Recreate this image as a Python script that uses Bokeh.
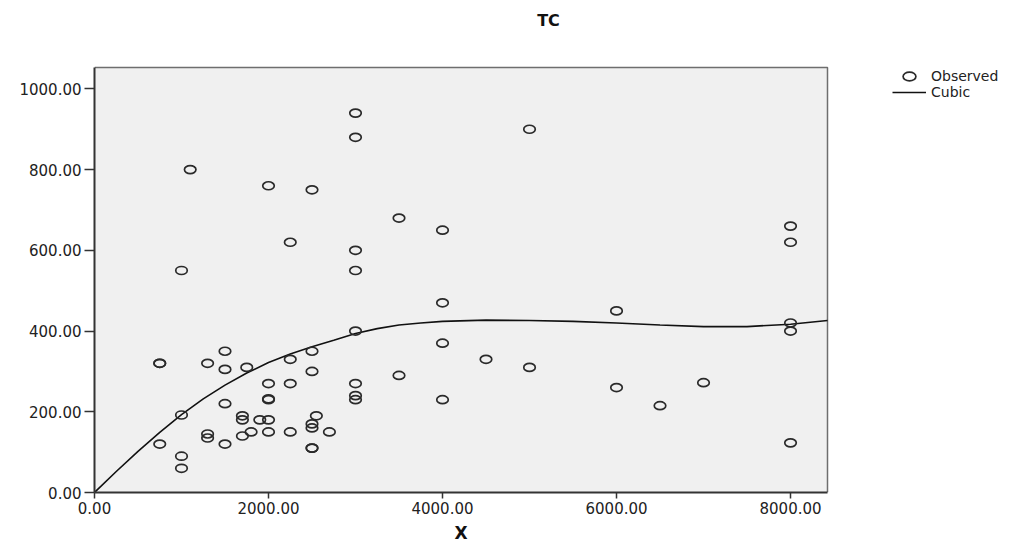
from bokeh.plotting import figure
from bokeh.models import Range1d, FixedTicker, PrintfTickFormatter, Legend, LegendItem, Label, Title
from bokeh.embed import file_html
from bokeh.resources import INLINE

# Observed data (X, TC)
obs_x = [1100, 2000, 2250, 1000,
         750, 750, 1300, 1500, 1500, 1750, 2250, 2000, 2250, 2000, 2000, 1500, 1000, 750, 1000, 1000,
         1300, 1300, 1500, 1700, 1800, 1700, 1700, 1900, 2000, 2000, 2250,
         3000, 3000, 2500, 3500, 4000, 5000, 3000, 3000, 4000,
         3000, 2500, 4000, 4500, 5000, 2500, 3000, 3500, 3000, 3000, 4000, 2550, 2500, 2500, 2700, 2500, 2500,
         8000, 8000, 6000, 8000, 8000, 6000, 6500, 7000, 8000]
obs_y = [800, 760, 620, 550,
         320, 320, 320, 350, 305, 310, 330, 270, 270, 230, 232, 220, 192, 120, 90, 60,
         145, 135, 120, 140, 150, 190, 180, 180, 180, 150, 150,
         940, 880, 750, 680, 650, 900, 600, 550, 470,
         400, 350, 370, 330, 310, 300, 270, 290, 240, 230, 230, 190, 170, 160, 150, 110, 110,
         660, 620, 450, 420, 400, 260, 215, 272, 123]

# Cubic fit curve
cubic_x = [0, 250, 500, 750, 1000, 1250, 1500, 1750, 2000, 2250, 2500, 2750, 3000, 3250, 3500,
           3750, 4000, 4500, 5000, 5500, 6000, 6500, 7000, 7500, 8000, 8425]
cubic_y = [0, 52, 102, 149, 193, 232, 266, 296, 322, 343, 361, 377, 394, 406, 415,
           420, 424, 427, 426, 424, 420, 415, 411, 411, 417, 426]

x_ticks = [0, 2000, 4000, 6000, 8000]
y_ticks = [0, 200, 400, 600, 800, 1000]

# Axis extents of the plot area
X_MAX, Y_MAX = 8425, 1053

FONT = "DejaVu Sans"

# The frame spans the whole canvas so that legend and title can sit beside the plot area
p = figure(width=1017, height=548, output_backend="svg", toolbar_location=None,
           x_range=Range1d(0, X_MAX * 923 / 733), y_range=Range1d(0, Y_MAX * 492 / 425),
           min_border_left=94, min_border_right=0, min_border_top=0, min_border_bottom=56)

p.background_fill_color = "white"
p.border_fill_color = "white"
p.outline_line_color = None
p.grid.visible = False

# plot area background and its top/right border
p.quad(left=[0], right=[X_MAX], bottom=[0], top=[Y_MAX], fill_color="#f0f0f0", line_color=None)
p.line([0, X_MAX, X_MAX], [Y_MAX, Y_MAX, 0], line_color="#6e6e6e", line_width=1.5)

for ax in (p.xaxis[0], p.yaxis[0]):
    ax.axis_line_color = "#333333"
    ax.axis_line_width = 2
    ax.major_tick_line_color = "#333333"
    ax.major_tick_line_width = 1.5
    ax.major_tick_in = 0
    ax.minor_tick_line_color = None
    ax.formatter = PrintfTickFormatter(format="%.2f")
    ax.major_label_text_font = FONT
    ax.major_label_text_font_size = "15px"
    ax.major_label_text_color = "#222222"

p.xaxis.bounds = (0, X_MAX)
p.yaxis.bounds = (0, Y_MAX)
p.xaxis.ticker = FixedTicker(ticks=x_ticks)
p.yaxis.ticker = FixedTicker(ticks=y_ticks)
p.xaxis.major_tick_out = 6
p.yaxis.major_tick_out = 10
p.xaxis.major_label_standoff = 3
p.yaxis.major_label_standoff = 3

curve = p.line(cubic_x, cubic_y, line_color="#111111", line_width=1.6)
pts = p.ellipse(obs_x, obs_y, width=11.5, height=8, width_units="screen", height_units="screen",
                fill_color=None, line_color="#2a2a2a", line_width=1.7)

legend = Legend(items=[LegendItem(label="Observed", renderers=[pts], index=0),
                       LegendItem(label="Cubic", renderers=[curve])],
                location=(798, 392), padding=0, margin=0, spacing=0,
                glyph_width=34, glyph_height=16, label_standoff=5,
                label_text_font=FONT, label_text_font_size="14px",
                label_text_color="#222222",
                background_fill_alpha=0, border_line_color=None)
p.add_layout(legend, "center")

# x axis title, centred under the plot area
p.add_layout(Title(text="X", align="left", offset=360, standoff=8,
                   text_font=FONT, text_font_style="bold", text_font_size="17px",
                   text_color="#111111"), "below")

p.add_layout(Label(x=454, y=472, x_units="screen", y_units="screen", text="TC",
                   text_font=FONT, text_font_style="bold", text_font_size="16px",
                   text_align="center", text_baseline="middle", text_color="#111111"))

open("out.html", "w").write(file_html(p, INLINE))
